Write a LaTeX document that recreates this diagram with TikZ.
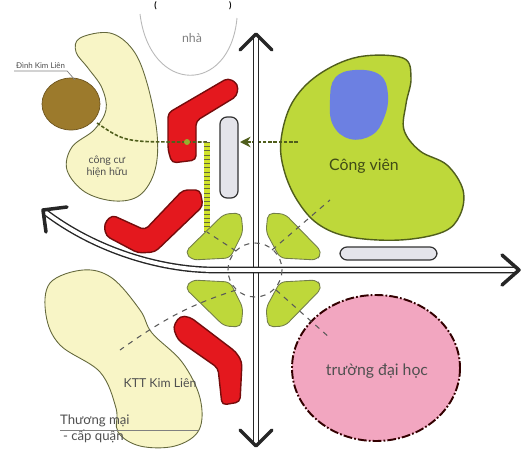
\documentclass[tikz,border=0pt]{standalone}
\usepackage{fontspec}
\setmainfont{Lato}
\usepackage{tikz}
\usetikzlibrary{calc,arrows.meta,positioning}
\definecolor{planYellow}{RGB}{248,245,198}
\definecolor{planOlive}{RGB}{100,104,60}
\definecolor{planGreen}{RGB}{190,216,58}
\definecolor{planGreenDark}{RGB}{80,94,28}
\definecolor{planBlue}{RGB}{108,128,226}
\definecolor{planRed}{RGB}{228,24,30}
\definecolor{planRedDark}{RGB}{118,12,12}
\definecolor{planBrown}{RGB}{156,122,44}
\definecolor{planPink}{RGB}{242,166,192}
\definecolor{planGray}{RGB}{228,228,234}
\definecolor{plangray}{RGB}{80,80,80}

\begin{document}
\begin{tikzpicture}[x=0.02cm, y=-0.02cm,
  zone/.style={draw=planOlive, line width=0.5pt, fill=planYellow},
  block/.style={draw=planRedDark, line width=0.8pt, fill=planRed, rounded corners=2.5pt, line join=round},
  capsule/.style={draw=black!80, line width=0.7pt, fill=planGray, rounded corners=4pt},
  leaf/.style={draw=planGreenDark!80, line width=0.5pt, fill=planGreen, rounded corners=3pt},
  road/.style={draw=black!85, line width=0.8pt, double=white, double distance=2.2pt},
  arrowTip/.style={black!85, line width=2pt, line cap=round, line join=round},
  link/.style={gray!70!black, line width=0.6pt, dashed},
  greenlink/.style={planGreenDark, line width=0.9pt, dash pattern=on 2pt off 1pt},
  planText/.style={text=plangray, inner sep=1pt, font=\fontsize{7}{8}\selectfont}]
\fill[white] (0,0) rectangle (524,450);
\useasboundingbox (0,0) rectangle (524,450);

% title
\node[font=\bfseries\fontsize{5}{5}\selectfont, anchor=north, inner sep=0.5pt] (titleText) at (193,0) {(\hspace{1.45cm})};

% nha
\draw[gray!55, line width=0.5pt] (140,14) .. controls (150,95) and (230,95) .. (237,18);
\node[planText, text=gray] (nhaText) at (192,38) {nhà};

% existing housing and the shrine
\draw[zone] plot[smooth cycle, tension=0.6] coordinates {(80,38) (110,33) (133,50) (147,83) (157,133) (155,170) (140,195) (115,201) (85,192) (67,170) (72,147) (94,130) (106,110) (102,88) (88,68) (76,52)};
\draw[planBrown!70!black, fill=planBrown, line width=0.4pt] (71,104) ellipse (29 and 26);
\node[planText, font=\fontsize{4.5}{5}\selectfont, anchor=south west] (shrineText) at (14,71) {Đình Kim Liên};
\draw[gray, line width=0.4pt] (shrineText.south west) -- (shrineText.south east) -- (75,80);
\node[planText, align=center, font=\fontsize{6}{7}\selectfont] (homeText) at (107,167) {công cư\\hiện hữu};

% Kim Lien
\draw[zone] plot[smooth cycle, tension=0.6] coordinates {(50,283) (83,270) (112,278) (140,310) (152,333) (182,362) (200,398) (199,430) (175,446) (140,446) (118,432) (116,408) (100,372) (60,345) (46,315)};
\node[planText] (kttText) at (160,383) {KTT Kim Liên};
\node[planText, font=\fontsize{7.5}{8}\selectfont, anchor=west] (tradeText) at (58,421) {Thương mại};
\node[planText, font=\fontsize{7.5}{8}\selectfont, anchor=west] (districtText) at (61,436) {- cấp quận};
\draw[gray, line width=0.4pt] (60,430) -- (198,430);

% park
\draw[draw=planGreenDark, line width=0.8pt, fill=planGreen] plot[smooth cycle, tension=0.6] coordinates {(403,58) (411,78) (406,104) (404,130) (420,151) (447,165) (463,190) (460,215) (443,232) (400,240) (350,237) (318,224) (297,200) (284,170) (281,140) (292,103) (318,75) (358,57)};
\fill[planBlue] plot[smooth cycle, tension=0.7] coordinates {(335,78) (355,70) (380,75) (388,95) (384,118) (372,135) (350,139) (333,125) (330,100)};
\node[planText, text=planGreenDark!80!black, font=\fontsize{9}{10}\selectfont] (parkText) at (364,166) {Công viên};

% university
\draw[black!80!red, line width=1.1pt, fill=planPink, dash pattern=on 5pt off 1.2pt on 1pt off 1.2pt] (376,368) ellipse (84 and 73);
\node[planText, font=\fontsize{9}{10}\selectfont] (uniText) at (377,371) {trường đại học};

% buildings
\draw[block] (168,113) -- (228,78) -- (238,84) -- (237,96) -- (196,121) -- (196,160) -- (172,163) -- (168,150) -- cycle;
\draw[block] (104,224) -- (112,215) -- (145,230) -- (183,190) -- (200,190) -- (203,206) -- (155,252) -- (138,253) -- (106,236) -- cycle;
\draw[block] (173,327) -- (180,316) -- (190,317) -- (236,352) -- (242,362) -- (240,402) -- (222,405) -- (218,368) -- (178,340) -- cycle;
\draw[capsule] (220,117) rectangle (238,198);
\draw[capsule] (340,247) rectangle (437,260);

% green links
\coordinate (shrine) at (97,123);
\coordinate (blockDot) at (187,142);
\coordinate (ladderTop) at (207,142);
\coordinate (ladderEnd) at (207,232);
\coordinate (parkEdge) at (298,142);
\coordinate (capsuleEdge) at (240,142);
\draw[greenlink] (shrine) .. controls (125,142) .. (blockDot) -- (ladderTop);
\draw[planGreen!70!yellow, line width=3pt] (ladderTop) -- (ladderEnd);
\draw[planOlive, line width=3pt, dash pattern=on 0.6pt off 1.8pt] (ladderTop) -- (ladderEnd);
\fill[planGreen!80!black] (blockDot) circle (3);
\draw[greenlink, -{Stealth[length=6pt, width=6pt]}] (parkEdge) -- (capsuleEdge);

% roads
\draw[road] (256,36) -- (256,444);
\draw[road] (518,270) -- (215,270) .. controls (160,270) and (95,250) .. (45,212);
\fill[white] (254,268) rectangle (258,272);
\draw[arrowTip] (240,50) -- (256,34) -- (272,50);
\draw[arrowTip] (240,430) -- (256,446) -- (272,430);
\draw[arrowTip] (502,255) -- (519,270) -- (502,285);
\draw[arrowTip] (67,207) -- (43,210) -- (46,232);

% central square
\draw[leaf] (185,252) -- (224,214) -- (241,213) -- (243,232) -- (230,258) -- (192,260) -- cycle;
\draw[leaf] (322,252) -- (285,214) -- (268,213) -- (266,232) -- (280,258) -- (317,260) -- cycle;
\draw[leaf] (185,288) -- (224,326) -- (241,327) -- (243,308) -- (230,282) -- (192,280) -- cycle;
\draw[leaf] (322,288) -- (285,326) -- (268,327) -- (266,308) -- (280,282) -- (317,280) -- cycle;
\coordinate (hub) at (255,270);
\draw[link] (hub) circle (27);
\coordinate (parkLink) at (330,200);
\coordinate (uniLink) at (330,338);
\coordinate (kttLink) at (120,350);
\draw[link] (272,250) -- (parkLink);
\draw[link] (276,290) -- (uniLink);
\draw[link] (236,251) -- (ladderEnd);
\draw[link] (236,290) .. controls (190,305) and (165,318) .. (kttLink);
\end{tikzpicture}
\end{document}
